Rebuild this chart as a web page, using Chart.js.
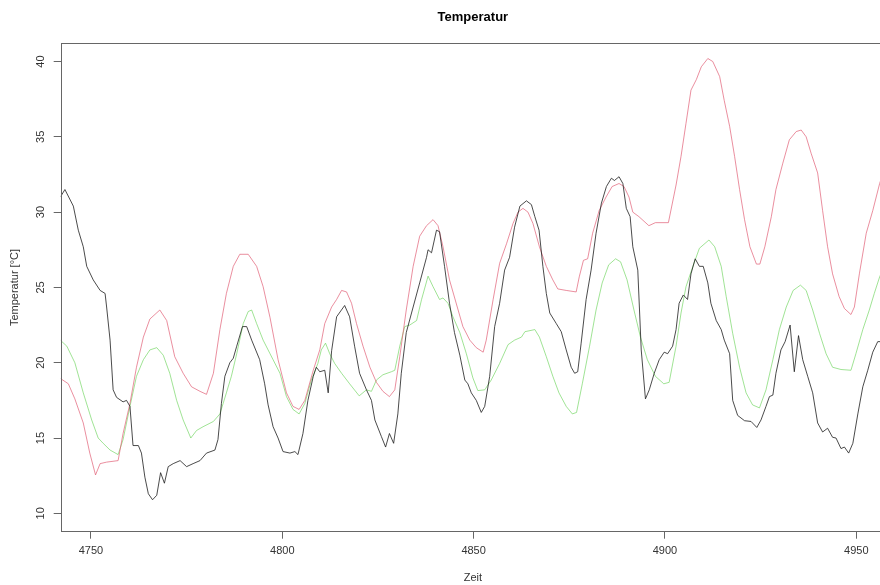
<!DOCTYPE html>
<html lang="de">
<head>
    <meta charset="UTF-8">
    <title>Temperatur</title>
    <script src="https://cdn.jsdelivr.net/npm/chart.js"></script>
    <style>
        body {
            margin: 0;
            background: #fff;
            overflow: hidden;
        }
        .chart-container {
            width: 886px;
            height: 585px;
        }
    </style>
</head>
<body>
    <div class="chart-container">
        <canvas id="tempChart"></canvas>
    </div>

    <script>
        // Schwarz: gemessene Temperatur
        const blackX = [4742.0, 4743.2, 4745.4, 4746.7, 4748.0, 4748.9, 4750.6, 4752.4, 4753.7, 4754.1, 4755.0, 4755.8, 4756.7, 4758.4, 4759.3, 4760.2, 4761.0, 4762.4, 4763.2, 4764.1, 4765.0, 4766.1, 4767.2, 4768.2, 4769.2, 4770.2, 4771.5, 4773.3, 4775.0, 4776.7, 4778.5, 4780.2, 4782.4, 4783.2, 4784.1, 4785.0, 4786.3, 4787.2, 4788.1, 4789.6, 4790.7, 4792.0, 4794.1, 4795.4, 4796.3, 4797.6, 4798.9, 4800.2, 4802.0, 4803.3, 4804.1, 4805.4, 4806.7, 4808.1, 4808.9, 4809.8, 4811.1, 4812.0, 4812.9, 4814.2, 4816.3, 4817.6, 4818.9, 4820.2, 4822.0, 4823.3, 4824.2, 4825.9, 4827.0, 4828.0, 4829.1, 4830.2, 4831.1, 4832.4, 4834.2, 4835.9, 4837.7, 4838.1, 4839.0, 4840.3, 4841.1, 4842.4, 4843.7, 4845.0, 4846.4, 4847.7, 4848.5, 4849.4, 4850.7, 4852.0, 4852.9, 4854.2, 4855.5, 4856.8, 4858.1, 4859.4, 4860.7, 4862.1, 4863.8, 4865.1, 4866.0, 4867.1, 4868.1, 4869.0, 4869.9, 4871.6, 4872.9, 4874.2, 4875.5, 4876.4, 4877.2, 4878.1, 4879.4, 4880.7, 4882.0, 4883.4, 4884.7, 4886.0, 4886.8, 4888.0, 4889.0, 4889.9, 4890.9, 4891.6, 4892.9, 4893.8, 4894.9, 4895.9, 4897.2, 4898.5, 4899.8, 4900.7, 4902.0, 4902.9, 4903.7, 4904.8, 4905.9, 4906.8, 4907.9, 4909.0, 4910.0, 4911.2, 4912.0, 4913.4, 4914.7, 4915.5, 4916.9, 4917.7, 4919.0, 4920.8, 4922.5, 4924.0, 4925.1, 4926.4, 4927.3, 4928.2, 4929.0, 4930.3, 4931.4, 4932.7, 4933.8, 4934.9, 4936.0, 4937.3, 4938.6, 4939.9, 4941.2, 4942.5, 4943.8, 4944.7, 4946.0, 4946.9, 4948.0, 4949.1, 4950.4, 4951.7, 4953.0, 4954.3, 4955.6, 4957.5];
        const blackY = [31.0, 31.5, 30.4, 28.8, 27.7, 26.4, 25.5, 24.8, 24.6, 23.7, 21.5, 18.2, 17.7, 17.4, 17.5, 17.1, 14.5, 14.5, 14.0, 12.4, 11.3, 10.9, 11.2, 12.7, 12.0, 13.1, 13.3, 13.5, 13.1, 13.3, 13.5, 14.0, 14.2, 14.9, 17.3, 19.1, 20.0, 20.3, 21.1, 22.4, 22.4, 21.5, 20.2, 18.6, 17.2, 15.75, 15.0, 14.1, 14.0, 14.1, 13.9, 15.3, 17.5, 19.1, 19.7, 19.4, 19.5, 18.0, 20.8, 23.05, 23.8, 23.05, 21.1, 19.3, 18.2, 17.5, 16.2, 15.1, 14.4, 15.3, 14.65, 16.6, 19.3, 22.0, 23.7, 25.3, 27.0, 27.5, 27.3, 28.8, 28.7, 26.4, 23.95, 22.0, 20.5, 18.85, 18.6, 18.0, 17.5, 16.7, 17.1, 19.1, 22.4, 23.95, 26.15, 27.0, 29.0, 30.4, 30.75, 30.5, 29.7, 28.8, 26.4, 24.6, 23.3, 22.6, 22.06, 20.85, 19.7, 19.3, 19.4, 21.3, 24.2, 26.15, 28.6, 30.6, 31.7, 32.25, 32.1, 32.35, 31.9, 30.25, 29.7, 27.7, 26.15, 20.85, 17.6, 18.2, 19.3, 20.2, 20.7, 20.6, 21.1, 22.2, 23.95, 24.5, 24.2, 25.9, 26.9, 26.4, 26.4, 25.3, 23.95, 22.8, 22.2, 21.5, 20.6, 17.5, 16.5, 16.15, 16.1, 15.7, 16.2, 17.1, 17.75, 17.85, 19.3, 20.85, 21.4, 22.5, 19.4, 21.8, 20.2, 19.1, 18.0, 16.0, 15.4, 15.65, 15.05, 15.0, 14.3, 14.4, 14.0, 14.65, 16.6, 18.4, 19.5, 20.7, 21.4, 21.4];

        // Rot
        const redX = [4742.0, 4744.1, 4745.8, 4748.0, 4749.7, 4751.2, 4752.4, 4754.1, 4757.1, 4758.4, 4760.2, 4761.9, 4763.7, 4765.4, 4768.0, 4769.8, 4771.9, 4774.1, 4776.3, 4778.5, 4780.2, 4782.0, 4783.7, 4785.4, 4787.2, 4788.9, 4791.1, 4793.3, 4795.0, 4796.8, 4798.9, 4801.1, 4802.8, 4804.4, 4805.9, 4808.1, 4809.8, 4811.1, 4812.9, 4814.2, 4815.5, 4816.8, 4818.1, 4819.4, 4821.1, 4822.9, 4824.6, 4826.3, 4828.0, 4829.4, 4830.7, 4832.4, 4834.2, 4835.9, 4837.7, 4839.4, 4840.7, 4842.0, 4843.7, 4845.5, 4847.2, 4849.0, 4850.7, 4852.5, 4853.3, 4855.1, 4856.8, 4858.6, 4860.3, 4861.6, 4862.9, 4864.2, 4865.5, 4867.2, 4869.0, 4870.7, 4872.0, 4874.2, 4876.8, 4877.6, 4878.7, 4879.8, 4881.1, 4882.8, 4884.6, 4886.2, 4888.0, 4889.3, 4890.6, 4891.6, 4893.2, 4895.8, 4897.5, 4900.9, 4902.9, 4904.2, 4905.5, 4906.8, 4908.2, 4909.5, 4911.2, 4912.5, 4914.3, 4915.5, 4916.9, 4918.2, 4919.5, 4920.8, 4922.2, 4923.9, 4924.8, 4926.1, 4927.8, 4929.0, 4930.8, 4932.5, 4934.3, 4935.6, 4936.9, 4938.2, 4939.9, 4941.2, 4942.5, 4943.8, 4945.5, 4946.9, 4948.6, 4949.5, 4950.8, 4952.6, 4954.3, 4956.1, 4957.5];
        const redY = [18.96, 18.6, 17.6, 16.0, 14.0, 12.55, 13.3, 13.4, 13.5, 15.3, 17.3, 19.7, 21.7, 22.9, 23.5, 22.8, 20.4, 19.3, 18.4, 18.1, 17.9, 19.3, 22.2, 24.6, 26.4, 27.2, 27.2, 26.4, 25.05, 23.0, 20.2, 18.0, 17.1, 16.9, 17.5, 19.5, 20.85, 22.6, 23.7, 24.2, 24.8, 24.7, 23.95, 22.6, 21.1, 19.7, 18.7, 18.1, 17.75, 18.2, 20.4, 23.5, 26.4, 28.4, 29.1, 29.5, 29.1, 27.7, 25.5, 23.9, 22.4, 21.5, 21.0, 20.7, 21.5, 24.2, 26.6, 27.9, 29.25, 30.0, 30.25, 30.0, 29.25, 27.7, 26.4, 25.5, 24.9, 24.8, 24.7, 25.7, 26.8, 26.9, 28.6, 30.1, 31.0, 31.7, 31.9, 31.7, 31.0, 30.0, 29.7, 29.1, 29.3, 29.3, 31.8, 33.7, 35.9, 38.1, 38.8, 39.65, 40.2, 40.0, 39.0, 37.4, 35.7, 33.7, 31.5, 29.5, 27.7, 26.55, 26.55, 27.7, 29.7, 31.5, 33.25, 34.8, 35.35, 35.45, 35.0, 33.9, 32.6, 30.1, 27.7, 25.9, 24.4, 23.6, 23.2, 23.7, 25.9, 28.6, 30.1, 31.9, 33.0];

        // Gruen
        const greenX = [4742.0, 4743.7, 4745.8, 4748.0, 4750.2, 4751.9, 4753.2, 4755.0, 4757.1, 4758.4, 4760.2, 4761.9, 4763.7, 4765.4, 4767.2, 4768.9, 4770.6, 4772.4, 4774.1, 4776.1, 4777.6, 4779.3, 4782.0, 4783.7, 4785.4, 4786.7, 4788.1, 4789.8, 4791.1, 4792.0, 4793.3, 4795.0, 4796.8, 4797.6, 4799.4, 4801.1, 4802.8, 4804.4, 4805.9, 4807.6, 4809.3, 4810.2, 4811.3, 4812.4, 4813.7, 4815.5, 4817.6, 4820.1, 4822.0, 4823.3, 4824.6, 4826.3, 4828.5, 4829.4, 4830.7, 4832.0, 4833.3, 4835.1, 4836.4, 4838.1, 4839.4, 4841.1, 4842.0, 4843.3, 4844.6, 4846.4, 4848.1, 4849.8, 4851.1, 4852.9, 4854.6, 4856.8, 4859.0, 4860.7, 4862.5, 4863.4, 4866.0, 4867.2, 4869.0, 4870.7, 4872.3, 4874.2, 4875.8, 4876.9, 4878.4, 4880.3, 4882.0, 4883.6, 4885.3, 4887.1, 4888.4, 4890.1, 4891.9, 4893.6, 4895.4, 4897.5, 4899.7, 4901.1, 4902.9, 4904.2, 4905.5, 4907.3, 4909.0, 4911.5, 4913.0, 4914.7, 4916.0, 4917.7, 4919.5, 4921.2, 4922.9, 4924.7, 4926.4, 4928.2, 4929.9, 4931.7, 4933.5, 4935.4, 4936.9, 4938.6, 4940.4, 4942.1, 4943.8, 4946.0, 4948.6, 4949.9, 4951.7, 4953.4, 4954.7, 4956.1, 4957.5];
        const greenY = [21.5, 21.1, 20.0, 18.0, 16.2, 15.0, 14.65, 14.2, 13.9, 14.9, 17.1, 19.1, 20.2, 20.85, 21.0, 20.5, 19.3, 17.5, 16.2, 15.0, 15.5, 15.75, 16.1, 16.6, 18.0, 19.1, 20.6, 22.6, 23.4, 23.5, 22.6, 21.5, 20.6, 20.2, 19.3, 17.75, 16.9, 16.6, 17.3, 18.85, 19.95, 20.85, 21.3, 20.6, 19.95, 19.3, 18.6, 17.8, 18.2, 18.1, 18.85, 19.2, 19.4, 19.5, 21.1, 22.4, 22.5, 22.8, 24.2, 25.75, 25.05, 24.2, 24.3, 23.95, 23.05, 22.0, 20.6, 19.0, 18.15, 18.2, 18.85, 19.95, 21.2, 21.5, 21.7, 22.06, 22.2, 21.7, 20.4, 19.1, 18.0, 17.1, 16.6, 16.7, 18.6, 21.1, 23.5, 25.3, 26.5, 26.9, 26.7, 25.5, 23.5, 21.7, 20.2, 19.1, 18.6, 18.7, 21.1, 23.3, 25.05, 26.4, 27.6, 28.15, 27.7, 26.4, 24.4, 21.95, 19.7, 18.0, 17.2, 17.0, 18.2, 20.2, 22.2, 23.7, 24.8, 25.15, 24.8, 23.5, 21.95, 20.6, 19.7, 19.55, 19.5, 20.6, 22.2, 23.5, 24.6, 25.7, 26.5];

        const xTicks = [4750, 4800, 4850, 4900, 4950];
        const yTicks = [10, 15, 20, 25, 30, 35, 40];

        const chartTitle = 'Temperatur';
        const xTitle = 'Zeit';
        const yTitle = 'Temperatur [°C]';

        const fontFamily = '"Liberation Sans", Arial, sans-serif';

        function toPoints(xs, ys) {
            return xs.map((x, i) => ({ x: x, y: ys[i] }));
        }

        // Rahmen, gedrehte y-Beschriftung und Titel wie in R
        const rStylePlugin = {
            id: 'rStyle',
            afterDraw(chart) {
                const ctx = chart.ctx;
                const area = chart.chartArea;
                const yScale = chart.scales.y;
                const mid = (area.left + area.right) / 2;

                ctx.save();
                ctx.strokeStyle = '#666';
                ctx.lineWidth = 1;
                ctx.strokeRect(Math.round(area.left) + 0.5, Math.round(area.top) + 0.5,
                    Math.round(area.right - area.left), Math.round(area.bottom - area.top));

                ctx.fillStyle = '#333';
                ctx.font = '11px ' + fontFamily;
                ctx.textAlign = 'center';
                ctx.textBaseline = 'middle';
                yTicks.forEach(v => {
                    const py = yScale.getPixelForValue(v);
                    ctx.save();
                    ctx.translate(41, py);
                    ctx.rotate(-Math.PI / 2);
                    ctx.fillText(String(v), 0, 0);
                    ctx.restore();
                });

                ctx.fillText(xTitle, mid, 578);
                ctx.save();
                ctx.translate(15, (area.top + area.bottom) / 2);
                ctx.rotate(-Math.PI / 2);
                ctx.fillText(yTitle, 0, 0);
                ctx.restore();

                ctx.fillStyle = '#000';
                ctx.font = 'bold 13px ' + fontFamily;
                ctx.fillText(chartTitle, mid, 17);
                ctx.restore();
            }
        };

        const ctx = document.getElementById('tempChart').getContext('2d');
        const chart = new Chart(ctx, {
            type: 'line',
            data: {
                datasets: [
                    {
                        label: 'schwarz',
                        data: toPoints(blackX, blackY),
                        borderColor: 'rgba(30, 30, 30, 0.8)',
                        borderWidth: 1,
                        pointRadius: 0,
                        tension: 0
                    },
                    {
                        label: 'rot',
                        data: toPoints(redX, redY),
                        borderColor: 'rgba(223, 83, 107, 0.65)',
                        borderWidth: 1,
                        pointRadius: 0,
                        tension: 0
                    },
                    {
                        label: 'gruen',
                        data: toPoints(greenX, greenY),
                        borderColor: 'rgba(97, 208, 79, 0.6)',
                        borderWidth: 1,
                        pointRadius: 0,
                        tension: 0
                    }
                ]
            },
            options: {
                responsive: true,
                maintainAspectRatio: false,
                animation: false,
                layout: {
                    padding: { top: 43.3, right: 1, left: 0, bottom: 0 }
                },
                plugins: {
                    legend: { display: false },
                    tooltip: { enabled: false }
                },
                scales: {
                    x: {
                        type: 'linear',
                        min: 4742.1,
                        max: 4957.5,
                        afterBuildTicks: scale => {
                            scale.ticks = xTicks.map(v => ({ value: v }));
                        },
                        afterFit: scale => {
                            scale.height = 53.3;
                        },
                        border: { display: false },
                        grid: {
                            drawOnChartArea: false,
                            drawTicks: true,
                            tickLength: 7,
                            color: '#666'
                        },
                        ticks: {
                            color: '#333',
                            padding: 6,
                            maxRotation: 0,
                            font: { size: 11, family: fontFamily },
                            callback: value => String(value)
                        }
                    },
                    y: {
                        min: 8.78,
                        max: 41.21,
                        afterBuildTicks: scale => {
                            scale.ticks = yTicks.map(v => ({ value: v }));
                        },
                        afterFit: scale => {
                            scale.width = 60.7;
                        },
                        border: { display: false },
                        grid: {
                            drawOnChartArea: false,
                            drawTicks: true,
                            tickLength: 7,
                            color: '#666'
                        },
                        ticks: {
                            display: false
                        }
                    }
                }
            },
            plugins: [rStylePlugin]
        });
    </script>
</body>
</html>
